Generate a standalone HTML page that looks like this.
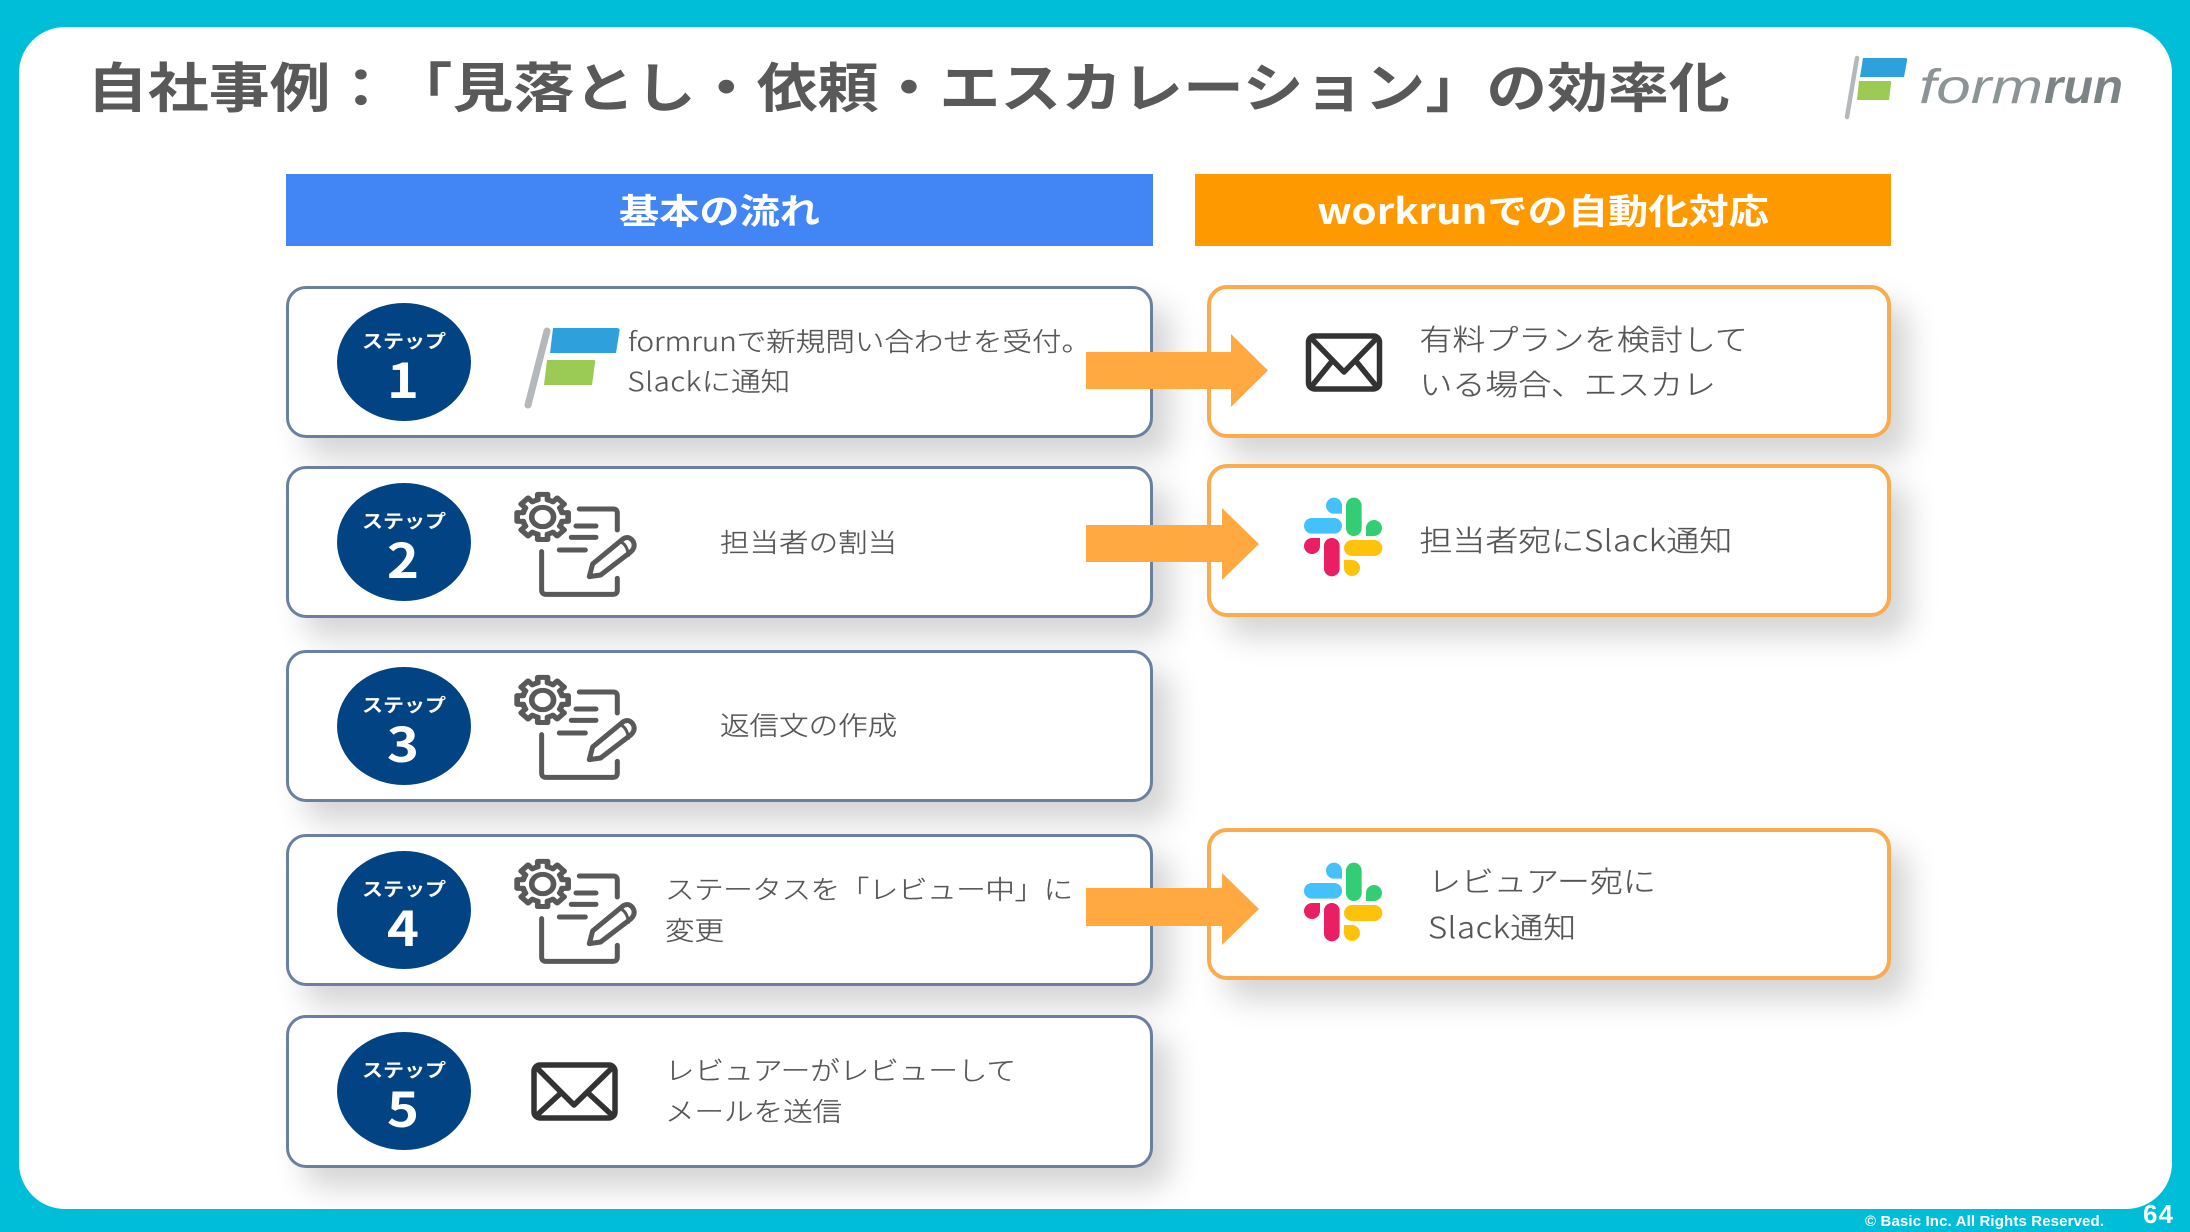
<!DOCTYPE html>
<html lang="ja"><head><meta charset="utf-8">
<style>
html,body{margin:0;padding:0;width:2190px;height:1232px;overflow:hidden;background:#00bed8}
.p{position:absolute;left:19px;top:27px;width:2153px;height:1182px;background:#fff;border-radius:46px}
.h{position:absolute;top:174px;height:72px}
.b{position:absolute;box-sizing:border-box;background:#fff;border-radius:20px;box-shadow:18px 20px 30px rgba(0,0,0,.17)}
.s{left:286px;width:867px;border:3.5px solid #6b7fa0}
.o{left:1207px;width:684px;border:4px solid #f9ab4e}
svg{position:absolute;left:0;top:0}
text{font-family:"Liberation Sans","Noto Sans CJK JP",sans-serif;white-space:pre;text-spacing-trim:space-all}
.j{font-family:"Noto Sans CJK JP","Liberation Sans",sans-serif}
.t{font-size:26px;fill:#555;stroke:#555;stroke-width:.25px;font-weight:300}
.r{font-size:29px;fill:#555;stroke:#555;stroke-width:.25px;font-weight:300}
.w{font-size:18.5px;fill:#fff;font-weight:700;text-anchor:middle}
.n{font-size:48px;fill:#fff;font-weight:700;text-anchor:middle}
.hd{font-size:35.400px;fill:#fff;font-weight:700;text-anchor:middle}
.l{letter-spacing:.5px}
</style></head><body>
<div class="p"></div>
<div class="h" style="left:286px;width:867px;background:#4285f4"></div>
<div class="h" style="left:1195px;width:696px;background:#ff9900"></div>
<div class="b s" style="top:286px;height:152px"></div>
<div class="b s" style="top:466px;height:152px"></div>
<div class="b s" style="top:650px;height:152px"></div>
<div class="b s" style="top:834px;height:152px"></div>
<div class="b s" style="top:1015px;height:153px"></div>
<div class="b o" style="top:285px;height:153px"></div>
<div class="b o" style="top:464px;height:153px"></div>
<div class="b o" style="top:828px;height:152px"></div>
<svg width="2190" height="1232" viewBox="0 0 2190 1232" xmlns="http://www.w3.org/2000/svg">
<defs>
<g id="ic" fill="none" stroke="#595959" stroke-width="15" stroke-linecap="round" stroke-linejoin="round">
 <g transform="translate(788 171) scale(1.13 1)">
  <circle r="29"/>
  <path id="tt" d="M-20.3,-49 L-12.8,-51.4 L-13.1,-67.7 L13.1,-67.7 L12.8,-51.4 L20.3,-49"/>
  <use href="#tt" transform="rotate(45)"/><use href="#tt" transform="rotate(90)"/><use href="#tt" transform="rotate(135)"/><use href="#tt" transform="rotate(180)"/><use href="#tt" transform="rotate(225)"/><use href="#tt" transform="rotate(270)"/><use href="#tt" transform="rotate(315)"/>
 </g>
 <path d="M898,147 H1000 Q1012,147 1012,160 V210"/>
 <path d="M888,198 H948 M874,232 H948 M838,270 H916"/>
 <path d="M785,275 V390 Q785,403 798,403 H1000 Q1012,403 1012,390 V355"/>
 <path d="M928,350 L938,312 L1030,236 Q1048,226 1060,245 Q1068,262 1052,276 L962,345 Z"/>
 <path d="M1020,246 Q1040,250 1046,286" stroke-width="9"/>
</g>
<g id="slack">
 <path fill="#44c1fb" d="M378,137 a24,24 0 1 1 48,0 v24 h-24 a24,24 0 0 1 -24,-24z"/>
 <rect fill="#44c1fb" x="312" y="174" width="114" height="47" rx="23.5"/>
 <rect fill="#33ce74" x="438" y="113" width="47" height="115" rx="23.5"/>
 <path fill="#33ce74" d="M498,204 a24,24 0 1 1 24,24 h-24z"/>
 <path fill="#ea1f63" d="M360,234 v24 a24,24 0 1 1 -24,-24z"/>
 <rect fill="#ea1f63" x="372" y="234" width="47" height="115" rx="23.5"/>
 <rect fill="#ffc20a" x="432" y="240" width="115" height="48" rx="24"/>
 <path fill="#ffc20a" d="M432,300 h24 a24,24 0 1 1 -24,24z"/>
</g>
</defs>

<text class="j" transform="translate(87 107) scale(1.136 1)" font-size="53.6" font-weight="700" fill="#595959">自社事例&#xFF1A;「見落とし・依頼・エスカレーション」の効率化</text>

<!-- logo -->
<path d="M1857,58 L1847,117" stroke="#b4b8bb" stroke-width="4.500" stroke-linecap="round"/>
<path d="M1863,58 H1905 Q1908,58 1907,61 L1904,77 H1860z" fill="#2ea1dd"/>
<path d="M1859,81 H1890 Q1892,81 1891,84 L1889,100 H1857z" fill="#9bca55"/>
<text x="1919" y="103" font-size="48" font-style="italic" fill="#8d9496" textLength="124" lengthAdjust="spacingAndGlyphs">form</text>
<text x="2044" y="103" font-size="48" font-style="italic" font-weight="700" fill="#7d8486" textLength="79" lengthAdjust="spacingAndGlyphs">run</text>

<text class="j hd" transform="translate(719.5 224) scale(1.136 1)">基本の流れ</text>
<text class="j hd" transform="translate(1543 224) scale(1.136 1)">workrunでの自動化対応</text>

<!-- ellipses -->
<g fill="#024384">
<ellipse cx="404" cy="362" rx="67" ry="59"/>
<ellipse cx="404" cy="542" rx="67" ry="59"/>
<ellipse cx="404" cy="726" rx="67" ry="59"/>
<ellipse cx="404" cy="910" rx="67" ry="59"/>
<ellipse cx="404" cy="1091" rx="67" ry="59"/>
</g>
<text class="j w" transform="translate(404 348) scale(1.136 1)">ステップ</text>
<text class="j n" transform="translate(403 398) scale(1.136 1)">1</text>
<text class="j w" transform="translate(404 528) scale(1.136 1)">ステップ</text>
<text class="j n" transform="translate(403 578) scale(1.136 1)">2</text>
<text class="j w" transform="translate(404 712) scale(1.136 1)">ステップ</text>
<text class="j n" transform="translate(403 762) scale(1.136 1)">3</text>
<text class="j w" transform="translate(404 896) scale(1.136 1)">ステップ</text>
<text class="j n" transform="translate(403 946) scale(1.136 1)">4</text>
<text class="j w" transform="translate(404 1077) scale(1.136 1)">ステップ</text>
<text class="j n" transform="translate(403 1127) scale(1.136 1)">5</text>

<!-- step 1 flag -->
<path d="M547,331 L528,405" stroke="#b4b8bb" stroke-width="7" stroke-linecap="round"/>
<path d="M553,328 H617 Q620,328 619.500,331 L616,353 H550z" fill="#2ea1dd"/>
<path d="M547,360 H594 Q596,360 595,363 L592,385 H544z" fill="#9bca55"/>

<use href="#ic" transform="translate(280 460) scale(.3333)"/>
<use href="#ic" transform="translate(280 643) scale(.3333)"/>
<use href="#ic" transform="translate(280 827) scale(.3333)"/>

<!-- mail step 5 -->
<g fill="none" stroke="#333" stroke-width="5.500" stroke-linejoin="round">
 <rect x="534" y="1065" width="81" height="53" rx="6"/>
 <path d="M536,1067 L574,1105 L613,1067 M536,1116 L562,1092 M613,1116 L587,1092"/>
</g>
<!-- mail box 1 -->
<g fill="none" stroke="#333" stroke-width="5.500" stroke-linejoin="round">
 <rect x="1308.500" y="336" width="71" height="53" rx="6"/>
 <path d="M1311,338 L1344,372 L1377,338 M1311,387 L1333,360 M1377,387 L1355,360"/>
</g>

<use href="#slack" transform="translate(1200 460) scale(.3333)"/>
<use href="#slack" transform="translate(1200 825) scale(.3333)"/>

<!-- arrows -->
<g fill="#ffa940">
<path d="M1086,352 H1231 V334 L1268,370.500 L1231,407 V389 H1086z"/>
<path d="M1086,525 H1222 V508 L1259,544 L1222,580 V562 H1086z"/>
<path d="M1086,888 H1222 V873 L1259,909 L1222,945 V926 H1086z"/>
</g>

<!-- labels -->
<text class="j t" transform="translate(628 351) scale(1.136 1)">formrunで新規問い合わせを受付。</text>
<text class="j t" transform="translate(627.500 391) scale(1.136 1)"><tspan class="l">Slack</tspan>に通知</text>
<text class="j t" transform="translate(720 552) scale(1.136 1)">担当者の割当</text>
<text class="j t" transform="translate(720 735) scale(1.136 1)">返信文の作成</text>
<text class="j t" transform="translate(665 899) scale(1.136 1)" letter-spacing="-.35">ステータスを「レビュー中」に</text>
<text class="j t" transform="translate(665 940) scale(1.136 1)">変更</text>
<text class="j t" transform="translate(665 1080) scale(1.136 1)">レビュアーがレビューして</text>
<text class="j t" transform="translate(665 1121) scale(1.136 1)">メールを送信</text>

<text class="j r" transform="translate(1419.500 350) scale(1.136 1)">有料プランを検討して</text>
<text class="j r" transform="translate(1419.500 395) scale(1.136 1)">いる場合、エスカレ</text>
<text class="j r" transform="translate(1419.500 551) scale(1.136 1)">担当者宛に<tspan class="l">Slack</tspan>通知</text>
<text class="j r" transform="translate(1428 892) scale(1.136 1)">レビュアー宛に</text>
<text class="j r" transform="translate(1428 938) scale(1.136 1)"><tspan class="l">Slack</tspan>通知</text>

<text x="1865" y="1226" font-size="15" font-weight="700" fill="#fff" textLength="239">© Basic Inc. All Rights Reserved.</text>
<text x="2143" y="1223" font-size="26" font-weight="700" fill="#fff" textLength="30">64</text>
</svg>
</body></html>
